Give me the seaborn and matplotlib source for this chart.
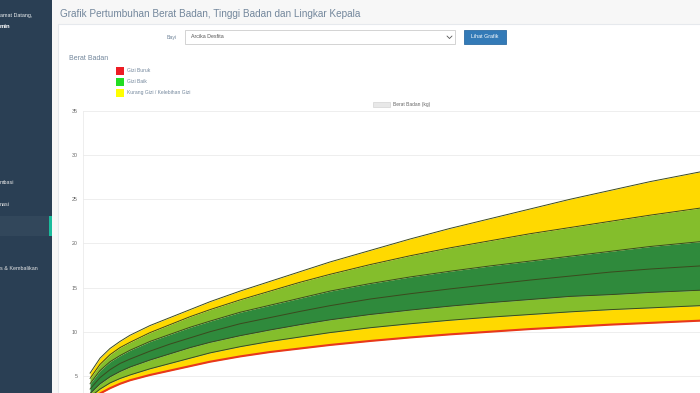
import pandas as pd
import matplotlib
matplotlib.use("Agg")
import matplotlib.pyplot as plt
from matplotlib.patches import Rectangle
from matplotlib.lines import Line2D
import seaborn as sns

# Kurva berat badan menurut umur (kg)
umur = [0, 1, 2, 3, 4, 6, 8, 10, 12, 15, 18, 21, 24, 28, 32, 36, 40, 44, 48, 52, 56, 61]
sd_min3 = [2.2, 3.0, 3.6, 4.1, 4.5, 5.1, 5.6, 6.1, 6.6, 7.2, 7.7, 8.1, 8.5, 8.95, 9.35,
           9.7, 10.0, 10.3, 10.55, 10.8, 11.0, 11.25]
sd_min2 = [2.6, 3.5, 4.2, 4.7, 5.1, 5.8, 6.4, 7.0, 7.6, 8.3, 8.9, 9.4, 9.9, 10.45, 10.9,
           11.3, 11.65, 11.95, 12.25, 12.5, 12.7, 12.95]
sd_min1 = [3.0, 4.1, 4.9, 5.5, 6.0, 6.8, 7.5, 8.2, 8.8, 9.55, 10.2, 10.8, 11.35, 11.95, 12.45,
           12.9, 13.3, 13.65, 14.0, 14.2, 14.45, 14.7]
median = [3.5, 4.8, 5.7, 6.4, 6.9, 7.8, 8.6, 9.3, 10.0, 10.9, 11.6, 12.3, 12.95, 13.7, 14.3,
          14.85, 15.35, 15.85, 16.3, 16.75, 17.1, 17.45]
sd_plus1 = [4.1, 5.6, 6.6, 7.3, 7.9, 8.9, 9.7, 10.5, 11.2, 12.2, 13.0, 13.8, 14.6, 15.45, 16.2,
            16.85, 17.45, 18.0, 18.55, 19.1, 19.65, 20.2]
sd_plus2 = [4.7, 6.3, 7.4, 8.2, 8.8, 9.9, 10.8, 11.7, 12.5, 13.6, 14.6, 15.6, 16.5, 17.6, 18.6,
            19.5, 20.3, 21.1, 21.8, 22.5, 23.2, 24.0]
sd_plus3 = [5.3, 7.0, 8.1, 8.9, 9.6, 10.7, 11.6, 12.5, 13.4, 14.6, 15.7, 16.8, 17.9, 19.2, 20.5,
            21.7, 22.8, 23.9, 25.0, 26.0, 27.0, 28.1]

y_ticks = [5, 10, 15, 20, 25, 30, 35]
legend_gizi = ["Gizi Buruk", "Gizi Baik", "Kurang Gizi / Kelebihan Gizi"]
menu_items = ["mbasi", "nasi", "s & Kembalikan"]

W, H = 700, 393

sns.set_theme(style="white")
plt.rcParams["font.family"] = ["Liberation Sans", "DejaVu Sans"]

fig = plt.figure(figsize=(7, 3.93), dpi=100)
fig.patch.set_facecolor("#F7F7F7")


def rect(x0, y0, x1, y1, color, edge=None, lw=0.0, z=-10):
    r = Rectangle((x0 / W, 1 - y1 / H), (x1 - x0) / W, (y1 - y0) / H,
                  transform=fig.transFigure, facecolor=color,
                  edgecolor=edge if edge else color, linewidth=lw, zorder=z)
    fig.patches.append(r)


def txt(x, y, s, size, color, **kw):
    fig.text(x / W, 1 - y / H, s, fontsize=size, color=color, va="center", **kw)


# sidebar
rect(0, 0, 52, H, "#2A3F54")
rect(0, 216, 49, 236, "#32475B")
rect(49, 216, 52, 236, "#1ABB9C")
txt(0, 15, "amat Datang,", 3.9, "#ECF0F1")
txt(0, 27, "min", 4.3, "#FFFFFF", fontweight="bold")
for s, y in zip(menu_items, [183, 204, 268]):
    txt(0, y, s, 3.9, "#E7E7E7")

# header + panel
txt(60, 14, "Grafik Pertumbuhan Berat Badan, Tinggi Badan dan Lingkar Kepala", 7.2, "#73879C")
rect(58, 24, 702, 400, "#FFFFFF", edge="#E6E9ED", lw=0.8)

# form
txt(177, 37, "Bayi", 3.8, "#73879C", ha="right")
rect(185, 30, 455, 44, "#FFFFFF", edge="#CCCCCC", lw=0.6, z=-5)
txt(191, 37, "Arcika Desfita", 3.8, "#555555")
fig.add_artist(Line2D([447 / W, 449.5 / W, 452 / W], [1 - 36 / H, 1 - 38.5 / H, 1 - 36 / H],
                      color="#555555", lw=0.6))
rect(464, 30, 506, 44, "#337AB7", edge="#2E6DA4", lw=0.6, z=-5)
txt(485, 37, "Lihat Grafik", 3.8, "#FFFFFF", ha="center")

# label + legend gizi
txt(69, 58, "Berat Badan", 5.0, "#73879C")
for s, y, c in zip(legend_gizi, [71, 81.5, 92.5], ["#ED1C24", "#22DD22", "#FFFF00"]):
    rect(116, y - 4, 124, y + 4, c, z=-5)
    txt(127, y, s, 3.6, "#73879C")

# chart.js legend
rect(373, 102, 390, 107, "#E8E8E8", edge="#CCCCCC", lw=0.4, z=-5)
txt(393, 104.5, "Berat Badan (kg)", 3.5, "#666666")

# chart area
ax = fig.add_axes([83 / W, (H - 420) / H, (700 - 83) / W, 309 / H])
ax.set_facecolor("none")

garis = {"-3 SD": sd_min3, "-2 SD": sd_min2, "-1 SD": sd_min1, "Median": median,
         "+1 SD": sd_plus1, "+2 SD": sd_plus2, "+3 SD": sd_plus3}
df = pd.DataFrame([{"umur": u, "berat": v, "garis": k}
                   for k, vals in garis.items() for u, v in zip(umur, vals)])

kuning, hijau_muda, hijau_tua = "#FFD900", "#84BE2C", "#2F8A3C"
ax.fill_between(umur, sd_min3, sd_min2, color=kuning, lw=0)
ax.fill_between(umur, sd_min2, sd_min1, color=hijau_muda, lw=0)
ax.fill_between(umur, sd_min1, sd_plus1, color=hijau_tua, lw=0)
ax.fill_between(umur, sd_plus1, sd_plus2, color=hijau_muda, lw=0)
ax.fill_between(umur, sd_plus2, sd_plus3, color=kuning, lw=0)

batas = df[df["garis"] != "-3 SD"]
sns.lineplot(data=batas, x="umur", y="berat", hue="garis",
             palette={k: "#3B4A1E" for k in garis if k != "-3 SD"},
             lw=0.7, legend=False, ax=ax)
sns.lineplot(data=df[df["garis"] == "-3 SD"], x="umur", y="berat",
             color="#E8371C", lw=1.5, legend=False, ax=ax)

ax.set_xlim(-0.7, 61)
ax.set_ylim(0, 35)
ax.set_yticks(y_ticks)
ax.set_xticks([])
ax.set_xlabel("")
ax.set_ylabel("")
ax.grid(axis="y", color="#E8E8E8", lw=0.5)
ax.set_axisbelow(True)
ax.tick_params(axis="y", length=0, pad=4, labelsize=3.8, labelcolor="#666666")
for side in ["top", "right", "bottom"]:
    ax.spines[side].set_visible(False)
ax.spines["left"].set_color("#E8E8E8")
ax.spines["left"].set_linewidth(0.5)

fig.savefig("out.png", dpi=100, facecolor=fig.get_facecolor())
